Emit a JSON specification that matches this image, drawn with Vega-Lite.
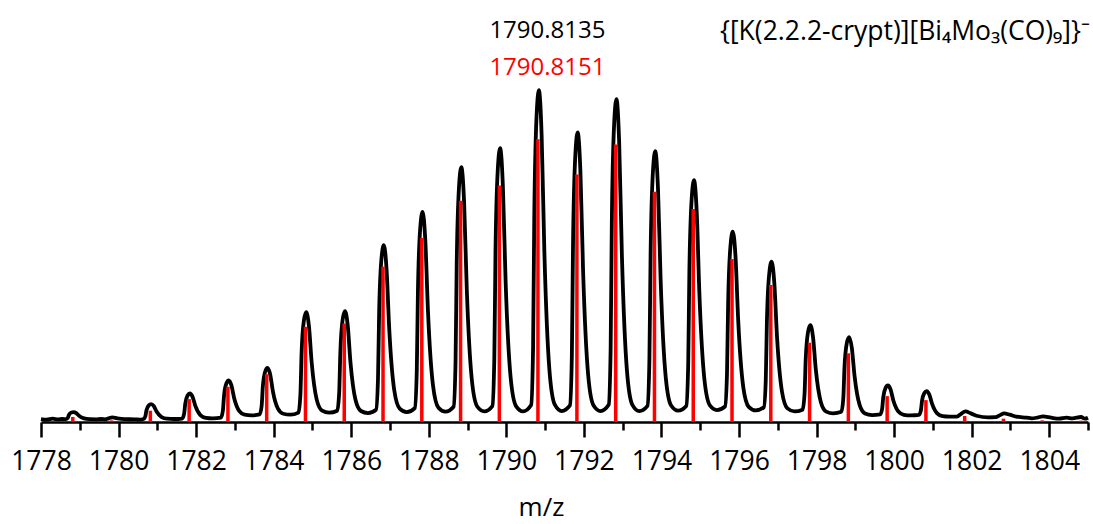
{
  "$schema": "https://vega.github.io/schema/vega-lite/v6.json",
  "width": 1047,
  "height": 365,
  "autosize": "none",
  "padding": {"left": 41, "top": 57, "right": 5, "bottom": 102},
  "background": "white",
  "config": {"view": {"stroke": null}, "font": "Open Sans"},
  "datasets": {
    "profile": [
      {"mz": 1778.00, "intensity": 0.9}, {"mz": 1778.15, "intensity": 0.7}, {"mz": 1778.30, "intensity": 1.0}, {"mz": 1778.45, "intensity": 0.8}, {"mz": 1778.55, "intensity": 0.9},
      {"mz": 1778.64, "intensity": 0.84}, {"mz": 1778.69, "intensity": 1.24}, {"mz": 1778.72, "intensity": 2.12}, {"mz": 1778.78, "intensity": 2.82}, {"mz": 1778.84, "intensity": 3.0}, {"mz": 1778.91, "intensity": 2.69}, {"mz": 1778.98, "intensity": 1.9}, {"mz": 1779.11, "intensity": 1.09}, {"mz": 1779.25, "intensity": 0.84}, {"mz": 1779.43, "intensity": 0.8},
      {"mz": 1779.55, "intensity": 0.9},
      {"mz": 1779.66, "intensity": 0.8}, {"mz": 1779.74, "intensity": 1.1}, {"mz": 1779.84, "intensity": 1.4}, {"mz": 1779.97, "intensity": 1.1}, {"mz": 1780.15, "intensity": 0.85}, {"mz": 1780.42, "intensity": 0.8},
      {"mz": 1780.55, "intensity": 0.7},
      {"mz": 1780.64, "intensity": 0.89}, {"mz": 1780.69, "intensity": 1.72}, {"mz": 1780.72, "intensity": 3.56}, {"mz": 1780.78, "intensity": 5.03}, {"mz": 1780.84, "intensity": 5.4}, {"mz": 1780.91, "intensity": 4.77}, {"mz": 1780.98, "intensity": 3.15}, {"mz": 1781.11, "intensity": 1.49}, {"mz": 1781.25, "intensity": 0.99}, {"mz": 1781.43, "intensity": 0.9},
      {"mz": 1781.64, "intensity": 1.05}, {"mz": 1781.69, "intensity": 2.44}, {"mz": 1781.72, "intensity": 5.52}, {"mz": 1781.78, "intensity": 7.98}, {"mz": 1781.84, "intensity": 8.6}, {"mz": 1781.91, "intensity": 7.55}, {"mz": 1781.98, "intensity": 4.85}, {"mz": 1782.11, "intensity": 2.08}, {"mz": 1782.25, "intensity": 1.25}, {"mz": 1782.43, "intensity": 1.1},
      {"mz": 1782.64, "intensity": 1.33}, {"mz": 1782.69, "intensity": 3.38}, {"mz": 1782.72, "intensity": 7.94}, {"mz": 1782.78, "intensity": 11.59}, {"mz": 1782.84, "intensity": 12.5}, {"mz": 1782.91, "intensity": 11.03}, {"mz": 1782.98, "intensity": 7.25}, {"mz": 1783.11, "intensity": 3.37}, {"mz": 1783.25, "intensity": 2.21}, {"mz": 1783.43, "intensity": 2.0},
      {"mz": 1783.64, "intensity": 2.29}, {"mz": 1783.69, "intensity": 4.86}, {"mz": 1783.72, "intensity": 10.58}, {"mz": 1783.78, "intensity": 15.16}, {"mz": 1783.84, "intensity": 16.3}, {"mz": 1783.91, "intensity": 14.33}, {"mz": 1783.98, "intensity": 9.25}, {"mz": 1784.11, "intensity": 4.03}, {"mz": 1784.25, "intensity": 2.48}, {"mz": 1784.43, "intensity": 2.2},
      {"mz": 1784.64, "intensity": 2.82}, {"mz": 1784.69, "intensity": 8.38}, {"mz": 1784.72, "intensity": 20.74}, {"mz": 1784.78, "intensity": 30.63}, {"mz": 1784.84, "intensity": 33.1}, {"mz": 1784.91, "intensity": 28.86}, {"mz": 1784.98, "intensity": 17.95}, {"mz": 1785.11, "intensity": 6.74}, {"mz": 1785.25, "intensity": 3.41}, {"mz": 1785.43, "intensity": 2.8},
      {"mz": 1785.64, "intensity": 3.41}, {"mz": 1785.69, "intensity": 8.92}, {"mz": 1785.72, "intensity": 21.16}, {"mz": 1785.78, "intensity": 30.95}, {"mz": 1785.84, "intensity": 33.4}, {"mz": 1785.91, "intensity": 29.10}, {"mz": 1785.98, "intensity": 18.05}, {"mz": 1786.11, "intensity": 6.69}, {"mz": 1786.25, "intensity": 3.31}, {"mz": 1786.43, "intensity": 2.7},
      {"mz": 1786.64, "intensity": 3.71}, {"mz": 1786.69, "intensity": 12.82}, {"mz": 1786.72, "intensity": 33.06}, {"mz": 1786.78, "intensity": 49.25}, {"mz": 1786.84, "intensity": 53.3}, {"mz": 1786.91, "intensity": 46.26}, {"mz": 1786.98, "intensity": 28.15}, {"mz": 1787.11, "intensity": 9.54}, {"mz": 1787.25, "intensity": 4.01}, {"mz": 1787.43, "intensity": 3.0},
      {"mz": 1787.64, "intensity": 4.21}, {"mz": 1787.69, "intensity": 15.06}, {"mz": 1787.72, "intensity": 39.18}, {"mz": 1787.78, "intensity": 58.48}, {"mz": 1787.84, "intensity": 63.3}, {"mz": 1787.91, "intensity": 54.87}, {"mz": 1787.98, "intensity": 33.2}, {"mz": 1788.11, "intensity": 10.93}, {"mz": 1788.25, "intensity": 4.30}, {"mz": 1788.43, "intensity": 3.1},
      {"mz": 1788.64, "intensity": 4.57}, {"mz": 1788.69, "intensity": 17.84}, {"mz": 1788.72, "intensity": 47.32}, {"mz": 1788.78, "intensity": 70.9}, {"mz": 1788.84, "intensity": 76.8}, {"mz": 1788.91, "intensity": 66.5}, {"mz": 1788.98, "intensity": 40.0}, {"mz": 1789.11, "intensity": 12.77}, {"mz": 1789.25, "intensity": 4.67}, {"mz": 1789.43, "intensity": 3.2},
      {"mz": 1789.64, "intensity": 4.79}, {"mz": 1789.69, "intensity": 19.06}, {"mz": 1789.72, "intensity": 50.78}, {"mz": 1789.78, "intensity": 76.16}, {"mz": 1789.84, "intensity": 82.5}, {"mz": 1789.91, "intensity": 71.4}, {"mz": 1789.98, "intensity": 42.85}, {"mz": 1790.11, "intensity": 13.51}, {"mz": 1790.25, "intensity": 4.79}, {"mz": 1790.43, "intensity": 3.2},
      {"mz": 1790.64, "intensity": 5.14}, {"mz": 1790.69, "intensity": 22.56}, {"mz": 1790.72, "intensity": 61.28}, {"mz": 1790.78, "intensity": 92.26}, {"mz": 1790.84, "intensity": 100}, {"mz": 1790.91, "intensity": 86.46}, {"mz": 1790.98, "intensity": 51.65}, {"mz": 1791.11, "intensity": 15.87}, {"mz": 1791.25, "intensity": 5.23}, {"mz": 1791.43, "intensity": 3.3},
      {"mz": 1791.64, "intensity": 4.98}, {"mz": 1791.69, "intensity": 20.1}, {"mz": 1791.72, "intensity": 53.7}, {"mz": 1791.78, "intensity": 80.58}, {"mz": 1791.84, "intensity": 87.3}, {"mz": 1791.91, "intensity": 75.54}, {"mz": 1791.98, "intensity": 45.3}, {"mz": 1792.11, "intensity": 14.22}, {"mz": 1792.25, "intensity": 4.98}, {"mz": 1792.43, "intensity": 3.3},
      {"mz": 1792.64, "intensity": 5.18}, {"mz": 1792.69, "intensity": 22.1}, {"mz": 1792.72, "intensity": 59.7}, {"mz": 1792.78, "intensity": 89.78}, {"mz": 1792.84, "intensity": 97.3}, {"mz": 1792.91, "intensity": 84.14}, {"mz": 1792.98, "intensity": 50.3}, {"mz": 1793.11, "intensity": 15.52}, {"mz": 1793.25, "intensity": 5.18}, {"mz": 1793.43, "intensity": 3.3},
      {"mz": 1793.64, "intensity": 4.87}, {"mz": 1793.69, "intensity": 18.96}, {"mz": 1793.72, "intensity": 50.28}, {"mz": 1793.78, "intensity": 75.34}, {"mz": 1793.84, "intensity": 81.6}, {"mz": 1793.91, "intensity": 70.65}, {"mz": 1793.98, "intensity": 42.5}, {"mz": 1794.11, "intensity": 13.57}, {"mz": 1794.25, "intensity": 4.96}, {"mz": 1794.43, "intensity": 3.4},
      {"mz": 1794.64, "intensity": 4.79}, {"mz": 1794.69, "intensity": 17.3}, {"mz": 1794.72, "intensity": 45.1}, {"mz": 1794.78, "intensity": 67.34}, {"mz": 1794.84, "intensity": 72.9}, {"mz": 1794.91, "intensity": 63.2}, {"mz": 1794.98, "intensity": 38.25}, {"mz": 1795.11, "intensity": 12.61}, {"mz": 1795.25, "intensity": 4.99}, {"mz": 1795.43, "intensity": 3.6},
      {"mz": 1795.64, "intensity": 4.68}, {"mz": 1795.69, "intensity": 14.36}, {"mz": 1795.72, "intensity": 35.88}, {"mz": 1795.78, "intensity": 53.1}, {"mz": 1795.84, "intensity": 57.4}, {"mz": 1795.91, "intensity": 49.85}, {"mz": 1795.98, "intensity": 30.45}, {"mz": 1796.11, "intensity": 10.51}, {"mz": 1796.25, "intensity": 4.58}, {"mz": 1796.43, "intensity": 3.5},
      {"mz": 1796.64, "intensity": 4.4}, {"mz": 1796.69, "intensity": 12.46}, {"mz": 1796.72, "intensity": 30.38}, {"mz": 1796.78, "intensity": 44.72}, {"mz": 1796.84, "intensity": 48.3}, {"mz": 1796.91, "intensity": 41.99}, {"mz": 1796.98, "intensity": 25.75}, {"mz": 1797.11, "intensity": 9.06}, {"mz": 1797.25, "intensity": 4.1}, {"mz": 1797.43, "intensity": 3.2},
      {"mz": 1797.64, "intensity": 3.72}, {"mz": 1797.69, "intensity": 8.4}, {"mz": 1797.72, "intensity": 18.8}, {"mz": 1797.78, "intensity": 27.12}, {"mz": 1797.84, "intensity": 29.2}, {"mz": 1797.91, "intensity": 25.48}, {"mz": 1797.98, "intensity": 15.9}, {"mz": 1798.11, "intensity": 6.06}, {"mz": 1798.25, "intensity": 3.13}, {"mz": 1798.43, "intensity": 2.6},
      {"mz": 1798.64, "intensity": 3.06}, {"mz": 1798.69, "intensity": 7.2}, {"mz": 1798.72, "intensity": 16.4}, {"mz": 1798.78, "intensity": 23.76}, {"mz": 1798.84, "intensity": 25.6}, {"mz": 1798.91, "intensity": 22.31}, {"mz": 1798.98, "intensity": 13.85}, {"mz": 1799.11, "intensity": 5.16}, {"mz": 1799.25, "intensity": 2.57}, {"mz": 1799.43, "intensity": 2.1},
      {"mz": 1799.64, "intensity": 2.28}, {"mz": 1799.69, "intensity": 3.88}, {"mz": 1799.72, "intensity": 7.44}, {"mz": 1799.78, "intensity": 10.29}, {"mz": 1799.84, "intensity": 11.0}, {"mz": 1799.91, "intensity": 9.74}, {"mz": 1799.98, "intensity": 6.5}, {"mz": 1800.11, "intensity": 3.17}, {"mz": 1800.25, "intensity": 2.18}, {"mz": 1800.43, "intensity": 2.0},
      {"mz": 1800.64, "intensity": 2.15}, {"mz": 1800.69, "intensity": 3.46}, {"mz": 1800.72, "intensity": 6.38}, {"mz": 1800.78, "intensity": 8.72}, {"mz": 1800.84, "intensity": 9.3}, {"mz": 1800.91, "intensity": 8.22}, {"mz": 1800.98, "intensity": 5.45}, {"mz": 1801.11, "intensity": 2.6}, {"mz": 1801.25, "intensity": 1.75}, {"mz": 1801.43, "intensity": 1.6},
      {"mz": 1801.62, "intensity": 1.65}, {"mz": 1801.72, "intensity": 2.4}, {"mz": 1801.84, "intensity": 3.2}, {"mz": 1801.98, "intensity": 2.6}, {"mz": 1802.15, "intensity": 1.8}, {"mz": 1802.42, "intensity": 1.4},
      {"mz": 1802.62, "intensity": 1.45}, {"mz": 1802.72, "intensity": 2.0}, {"mz": 1802.84, "intensity": 2.6}, {"mz": 1802.98, "intensity": 2.2}, {"mz": 1803.15, "intensity": 1.6}, {"mz": 1803.42, "intensity": 1.3},
      {"mz": 1803.55, "intensity": 1.1}, {"mz": 1803.70, "intensity": 1.35}, {"mz": 1803.84, "intensity": 1.7}, {"mz": 1804.05, "intensity": 1.3}, {"mz": 1804.25, "intensity": 1.0}, {"mz": 1804.45, "intensity": 1.3}, {"mz": 1804.60, "intensity": 1.1}, {"mz": 1804.82, "intensity": 1.5}, {"mz": 1804.92, "intensity": 1.0}, {"mz": 1805.00, "intensity": 1.3}
    ],
    "sticks": [
      {"mz": 1778.82, "intensity": 1.5}, {"mz": 1779.82, "intensity": 0.5}, {"mz": 1780.82, "intensity": 3.4}, {"mz": 1781.82, "intensity": 6.9}, {"mz": 1782.82, "intensity": 10.6}, {"mz": 1783.82, "intensity": 14.4}, {"mz": 1784.82, "intensity": 28.7}, {"mz": 1785.82, "intensity": 29.7}, {"mz": 1786.82, "intensity": 46.8}, {"mz": 1787.82, "intensity": 55.5}, {"mz": 1788.82, "intensity": 66.7}, {"mz": 1789.82, "intensity": 71.3}, {"mz": 1790.815, "intensity": 85.2}, {"mz": 1791.82, "intensity": 74.6}, {"mz": 1792.82, "intensity": 83.6}, {"mz": 1793.82, "intensity": 69.4}, {"mz": 1794.82, "intensity": 64.2}, {"mz": 1795.82, "intensity": 49.1}, {"mz": 1796.82, "intensity": 41.3}, {"mz": 1797.82, "intensity": 23.9}, {"mz": 1798.82, "intensity": 20.7}, {"mz": 1799.82, "intensity": 7.8}, {"mz": 1800.82, "intensity": 6.6}, {"mz": 1801.82, "intensity": 1.8}, {"mz": 1802.82, "intensity": 1.0}, {"mz": 1803.82, "intensity": 0.5}, {"mz": 1804.82, "intensity": 0.4}
    ]
  },
  "resolve": {"axis": {"x": "independent"}},
  "layer": [
    {
      "data": {"name": "profile"},
      "mark": {"type": "line", "color": "#000000", "strokeWidth": 3.8, "interpolate": "monotone"},
      "encoding": {
        "x": {"field": "mz", "type": "quantitative", "scale": {"domain": [1778, 1805], "nice": false, "zero": false},
          "axis": {"orient": "bottom", "values": [1779, 1781, 1783, 1785, 1787, 1789, 1791, 1793, 1795, 1797, 1799, 1801, 1803, 1805], "tickSize": 8, "tickWidth": 2.5, "tickColor": "#000000", "labels": false, "domain": false, "grid": false, "title": null}},
        "y": {"field": "intensity", "type": "quantitative", "scale": {"domain": [0, 110], "nice": false}, "axis": null}
      }
    },
    {
      "data": {"name": "sticks"},
      "mark": {"type": "rule", "color": "#ff0000", "strokeWidth": 3.5},
      "encoding": {
        "x": {"field": "mz", "type": "quantitative", "scale": {"domain": [1778, 1805], "nice": false, "zero": false},
          "axis": {"orient": "bottom", "values": [1778, 1780, 1782, 1784, 1786, 1788, 1790, 1792, 1794, 1796, 1798, 1800, 1802, 1804], "format": "d", "tickSize": 15, "tickWidth": 2.5, "tickColor": "#000000", "domain": true, "domainColor": "#000000", "domainWidth": 2.5, "grid": false, "labelFont": "Open Sans", "labelFontSize": 26.5, "labelColor": "#000000", "labelPadding": 11, "labelFlush": false, "title": "m/z", "titleFont": "Open Sans", "titleFontSize": 26, "titleFontWeight": "normal", "titleColor": "#000000", "titlePadding": 20, "titleX": 500}},
        "y": {"field": "intensity", "type": "quantitative", "scale": {"domain": [0, 110], "nice": false}, "axis": null},
        "y2": {"datum": 0}
      }
    },
    {
      "data": {"values": [{"label": "1790.8135"}]},
      "mark": {"type": "text", "font": "Open Sans", "fontSize": 24, "color": "#000000", "align": "center", "baseline": "middle"},
      "encoding": {
        "x": {"datum": 1791.06, "type": "quantitative", "scale": {"domain": [1778, 1805], "nice": false, "zero": false}, "axis": null},
        "y": {"datum": 117.8, "type": "quantitative", "scale": {"domain": [0, 110], "nice": false}, "axis": null},
        "text": {"field": "label"}
      }
    },
    {
      "data": {"values": [{"label": "1790.8151"}]},
      "mark": {"type": "text", "font": "Open Sans", "fontSize": 24, "color": "#ff0000", "align": "center", "baseline": "middle"},
      "encoding": {
        "x": {"datum": 1791.06, "type": "quantitative", "scale": {"domain": [1778, 1805], "nice": false, "zero": false}, "axis": null},
        "y": {"datum": 106.7, "type": "quantitative", "scale": {"domain": [0, 110], "nice": false}, "axis": null},
        "text": {"field": "label"}
      }
    },
    {
      "data": {"values": [{"label": "{[K(2.2.2-crypt)][Bi₄Mo₃(CO)₉]}⁻"}]},
      "mark": {"type": "text", "font": "Open Sans", "fontSize": 26.5, "color": "#000000", "align": "right", "baseline": "middle"},
      "encoding": {
        "x": {"datum": 1805.05, "type": "quantitative", "scale": {"domain": [1778, 1805], "nice": false, "zero": false}, "axis": null},
        "y": {"datum": 117.5, "type": "quantitative", "scale": {"domain": [0, 110], "nice": false}, "axis": null},
        "text": {"field": "label"}
      }
    }
  ]
}
